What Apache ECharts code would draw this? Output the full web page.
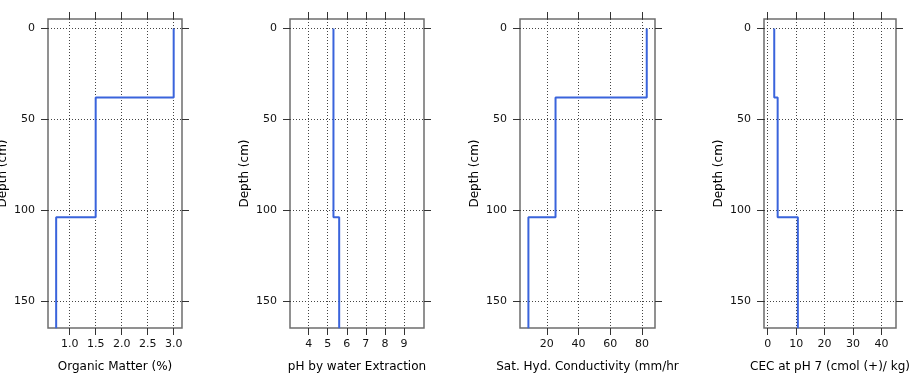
<!DOCTYPE html>
<html>
<head>
<meta charset="utf-8">
<script src="https://cdn.jsdelivr.net/npm/echarts@6/dist/echarts.min.js"></script>
<style>html,body{margin:0;padding:0;background:#fff;}#c{width:916px;height:388px;}</style>
</head>
<body>
<div id="c"></div>
<script>
// Horizon boundaries (cm)
const depthTop = [0, 38, 104];
const depthBottom = [38, 104, 165];
// Property values per horizon
const organicMatter = [3.0, 1.5, 0.74];
const phWater = [5.3, 5.3, 5.6];
const satHydCond = [83, 25.5, 8.4];
const cecPh7 = [2.3, 3.5, 10.6];
// Axis titles
const xTitles = ['Organic Matter (%)', 'pH by water Extraction', 'Sat. Hyd. Conductivity (mm/hr', 'CEC at pH 7 (cmol (+)/ kg)'];
const yTitle = 'Depth (cm)';
// Tick values
const xTicks = [
  [1.0, 1.5, 2.0, 2.5, 3.0],
  [4, 5, 6, 7, 8, 9],
  [20, 40, 60, 80],
  [0, 10, 20, 30, 40]
];
const yTicks = [0, 50, 100, 150];
// Axis ranges
const xRanges = [[0.583, 3.16], [3.02, 10.05], [3.1, 88.2], [-1.3, 45.1]];
const yRange = [-5.2, 164.9];

const seriesValues = [organicMatter, phWater, satHydCond, cecPh7];
const grids = [
  {left: 48, width: 134},
  {left: 290, width: 134},
  {left: 520, width: 135},
  {left: 764, width: 132}
];
const FONT = 'DejaVu Sans';
const gridLineStyle = {color: '#444', width: 1, type: [1, 2]};

function profile(vals) {
  const pts = [];
  for (let i = 0; i < vals.length; i++) {
    pts.push([vals[i], depthTop[i]]);
    pts.push([vals[i], depthBottom[i]]);
  }
  return pts;
}
function fmt(decimals) {
  return v => decimals ? Number(v).toFixed(1) : String(Math.round(v));
}

const option = {
  animation: false,
  backgroundColor: '#fff',
  grid: [], xAxis: [], yAxis: [], series: []
};

for (let i = 0; i < 4; i++) {
  option.grid.push({
    left: grids[i].left, width: grids[i].width, top: 19, height: 309,
    show: true, borderColor: '#6e6e6e', borderWidth: 1.5, containLabel: false,
    outerBoundsMode: 'none'
  });
  const dec = i === 0;
  // bottom x axis
  option.xAxis.push({
    type: 'value', gridIndex: i, position: 'bottom',
    min: xRanges[i][0], max: xRanges[i][1],
    name: xTitles[i], nameLocation: 'middle', nameGap: 33,
    nameTextStyle: {fontFamily: FONT, fontSize: 12, color: '#000'},
    axisLine: {show: false, onZero: false},
    axisTick: {show: true, length: 7, customValues: xTicks[i], lineStyle: {color: '#333', width: 1}},
    axisLabel: {show: true, customValues: xTicks[i], formatter: fmt(dec), margin: 11,
      fontFamily: FONT, fontSize: 11, color: '#111'},
    splitLine: {show: true, lineStyle: gridLineStyle}
  });
  // top x axis (ticks only)
  option.xAxis.push({
    type: 'value', gridIndex: i, position: 'top',
    min: xRanges[i][0], max: xRanges[i][1],
    axisLine: {show: false, onZero: false},
    axisTick: {show: true, length: 7, customValues: xTicks[i], lineStyle: {color: '#333', width: 1}},
    axisLabel: {show: false},
    splitLine: {show: false}
  });
  // left y axis
  option.yAxis.push({
    type: 'value', gridIndex: i, position: 'left', inverse: true,
    min: yRange[0], max: yRange[1],
    name: yTitle, nameLocation: 'middle', nameGap: 39,
    nameTextStyle: {fontFamily: FONT, fontSize: 12, color: '#000'},
    axisLine: {show: false, onZero: false},
    axisTick: {show: true, length: 7, customValues: yTicks, lineStyle: {color: '#333', width: 1}},
    axisLabel: {show: true, customValues: yTicks, margin: 13,
      fontFamily: FONT, fontSize: 11, color: '#111'},
    splitLine: {show: true, lineStyle: gridLineStyle}
  });
  // right y axis (ticks only)
  option.yAxis.push({
    type: 'value', gridIndex: i, position: 'right', inverse: true,
    min: yRange[0], max: yRange[1],
    axisLine: {show: false, onZero: false},
    axisTick: {show: true, length: 7, customValues: yTicks, lineStyle: {color: '#333', width: 1}},
    axisLabel: {show: false},
    splitLine: {show: false}
  });
  option.series.push({
    type: 'line', xAxisIndex: 2 * i, yAxisIndex: 2 * i,
    data: profile(seriesValues[i]),
    showSymbol: false, symbol: 'none', clip: true,
    lineStyle: {color: '#3a64dc', width: 2},
    itemStyle: {color: '#3a64dc'}
  });
}

const chart = echarts.init(document.getElementById('c'), null, {renderer: 'canvas'});
chart.setOption(option);
</script>
</body>
</html>
